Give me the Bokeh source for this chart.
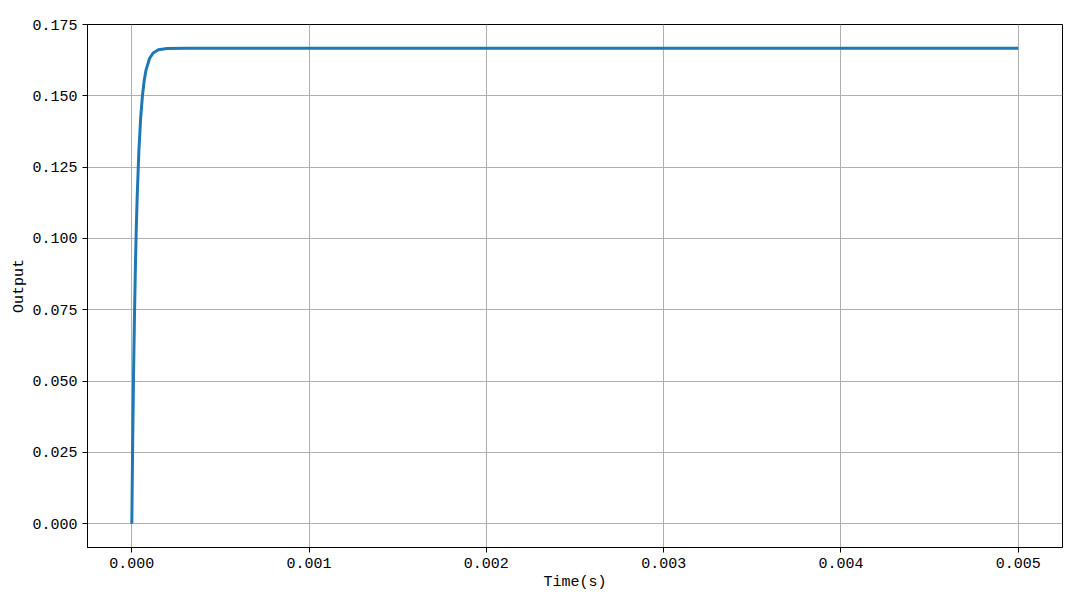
from bokeh.plotting import figure
from bokeh.models import Range1d, FixedTicker, PrintfTickFormatter
from bokeh.embed import file_html
from bokeh.resources import INLINE

# data (step response)
time_s = [0.0, 0.000002, 0.000005, 0.00001, 0.000015, 0.00002, 0.000025, 0.00003,
          0.00004, 0.00005, 0.00006, 0.00007, 0.00008, 0.0001, 0.00012, 0.00015,
          0.0002, 0.0003, 0.001, 0.002, 0.003, 0.004, 0.005]
output = [0.0, 0.0123, 0.0292, 0.0532, 0.0730, 0.0894, 0.1030, 0.1141,
          0.1309, 0.1423, 0.1501, 0.1554, 0.1590, 0.1631, 0.1650, 0.16615,
          0.16659, 0.16667, 0.16667, 0.16667, 0.16667, 0.16667, 0.16667]

x_ticks = [0.000, 0.001, 0.002, 0.003, 0.004, 0.005]
y_ticks = [0.000, 0.025, 0.050, 0.075, 0.100, 0.125, 0.150, 0.175]

FONT = "Liberation Mono"

p = figure(width=1072, height=599, frame_width=975, frame_height=523,
           output_backend="svg", toolbar_location=None,
           x_range=Range1d(-0.00025, 0.00525), y_range=Range1d(-0.00833, 0.175),
           min_border_left=87, min_border_right=10, min_border_top=24, min_border_bottom=52)

p.line(time_s, output, line_color="#1f77b4", line_width=3)

p.xaxis.ticker = FixedTicker(ticks=x_ticks)
p.yaxis.ticker = FixedTicker(ticks=y_ticks)
p.xaxis.formatter = PrintfTickFormatter(format="%.3f")
p.yaxis.formatter = PrintfTickFormatter(format="%.3f")
p.xaxis.axis_label = "Time(s)"
p.yaxis.axis_label = "Output"

for ax in (p.xaxis, p.yaxis):
    ax.major_label_text_font = FONT
    ax.major_label_text_font_size = "15px"
    ax.major_label_text_color = "black"
    ax.axis_label_text_font = FONT
    ax.axis_label_text_font_size = "15px"
    ax.axis_label_text_font_style = "normal"
    ax.axis_label_text_color = "black"
    ax.axis_line_color = "black"
    ax.major_tick_line_color = "black"
    ax.major_tick_out = 5
    ax.major_tick_in = 0
    ax.minor_tick_line_color = None
    ax.major_label_standoff = 5

p.xaxis.axis_label_standoff = 3
p.yaxis.axis_label_standoff = 1

p.xgrid.grid_line_color = "#b0b0b0"
p.ygrid.grid_line_color = "#b0b0b0"
p.xgrid.grid_line_width = 1
p.ygrid.grid_line_width = 1
p.outline_line_color = "black"
p.outline_line_width = 1
p.background_fill_color = "white"
p.border_fill_color = "white"

open("out.html", "w").write(file_html(p, INLINE))
